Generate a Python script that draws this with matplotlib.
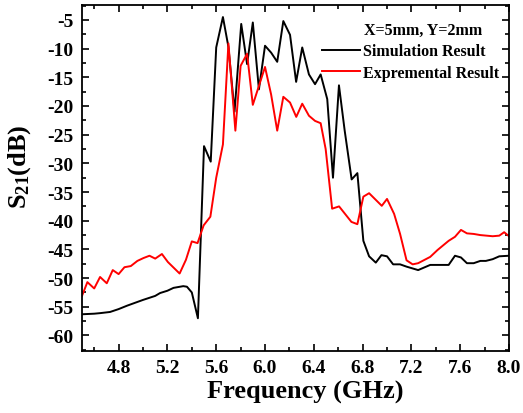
import matplotlib
matplotlib.use("Agg")
import matplotlib.pyplot as plt
from matplotlib.ticker import MultipleLocator

plt.rcParams["font.family"] = "Liberation Serif"
plt.rcParams["font.weight"] = "bold"
plt.rcParams["mathtext.fontset"] = "custom"
plt.rcParams["mathtext.rm"] = "Liberation Serif:bold"
plt.rcParams["mathtext.it"] = "Liberation Serif:bold"
plt.rcParams["axes.unicode_minus"] = False

# simulation (black)
sim_f = [4.50, 4.60, 4.65, 4.73, 4.80, 4.87, 5.00, 5.10, 5.14, 5.20, 5.25, 5.33, 5.36,
         5.40, 5.45, 5.50, 5.555, 5.60, 5.655, 5.70, 5.75, 5.805, 5.853, 5.90, 5.95,
         6.00, 6.05, 6.10, 6.15, 6.205, 6.255, 6.305, 6.36, 6.41, 6.456, 6.51, 6.557,
         6.606, 6.653, 6.71, 6.757, 6.806, 6.853, 6.908, 6.954, 7.00, 7.05, 7.107,
         7.16, 7.255, 7.354, 7.505, 7.557, 7.606, 7.655, 7.71, 7.765, 7.81, 7.866,
         7.92, 8.00]
sim_db = [-56.3, -56.2, -56.1, -55.9, -55.4, -54.8, -53.8, -53.1, -52.6, -52.2, -51.7,
          -51.4, -51.5, -52.5, -57.0, -27.0, -29.7, -9.8, -4.5, -9.7, -21.0, -5.7,
          -12.7, -5.45, -17.1, -9.5, -10.7, -12.3, -5.2, -7.6, -15.8, -9.8, -14.5,
          -16.2, -14.5, -18.8, -32.5, -16.4, -24.3, -32.8, -31.7, -43.5, -46.2, -47.3,
          -46.0, -46.2, -47.6, -47.6, -48.0, -48.6, -47.7, -47.7, -46.1, -46.4, -47.4,
          -47.4, -47.0, -47.0, -46.7, -46.2, -46.1]

# measurement (red)
exp_f = [4.50, 4.544, 4.60, 4.648, 4.703, 4.752, 4.80, 4.848, 4.90, 4.954, 5.004,
         5.053, 5.10, 5.155, 5.204, 5.30, 5.352, 5.40, 5.447, 5.497, 5.552, 5.60,
         5.655, 5.70, 5.757, 5.80, 5.853, 5.90, 6.00, 6.05, 6.10, 6.15, 6.205, 6.256,
         6.305, 6.36, 6.41, 6.456, 6.497, 6.55, 6.607, 6.708, 6.757, 6.806, 6.853,
         6.957, 7.00, 7.058, 7.107, 7.16, 7.21, 7.255, 7.354, 7.414, 7.505, 7.557,
         7.606, 7.655, 7.71, 7.765, 7.866, 7.92, 7.96, 8.00]
exp_db = [-53.1, -50.7, -51.8, -49.8, -50.9, -48.6, -49.3, -48.1, -47.9, -47.0, -46.5,
          -46.1, -46.6, -45.8, -47.2, -49.2, -46.8, -43.6, -43.9, -40.8, -39.3, -32.5,
          -26.7, -9.1, -24.3, -13.0, -10.9, -19.8, -13.2, -18.0, -24.3, -18.4, -19.4,
          -21.9, -19.6, -21.7, -22.6, -23.0, -27.5, -37.9, -37.5, -40.2, -40.6, -35.8,
          -35.2, -37.4, -36.2, -38.8, -42.3, -46.9, -47.6, -47.4, -46.3, -45.1, -43.5,
          -42.8, -41.6, -42.2, -42.3, -42.5, -42.7, -42.6, -42.0, -42.7]

fig = plt.figure(figsize=(5.23, 4.14), dpi=100)
ax = fig.add_axes([0.1568, 0.1498, 0.8165, 0.8357])

ax.plot(sim_f, sim_db, color="black", lw=1.4, label="Simulation Result")
ax.plot(exp_f, exp_db, color="red", lw=1.4, label="Expremental Result")

ax.set_xlim(4.5, 8.0)
ax.set_ylim(-62.7, -2.4)
ax.xaxis.set_major_locator(MultipleLocator(0.4))
ax.xaxis.set_minor_locator(MultipleLocator(0.2))
ax.yaxis.set_major_locator(MultipleLocator(5))
ax.yaxis.set_minor_locator(MultipleLocator(2.5))
ax.tick_params(which="both", direction="in", top=True, right=True, width=1.2)
ax.tick_params(which="major", length=5, labelsize=14, pad=6)
ax.tick_params(which="minor", length=3)
for s in ax.spines.values():
    s.set_linewidth(1.3)

ax.set_xlabel("Frequency (GHz)", fontsize=19, fontweight="bold")
ax.xaxis.set_label_coords(0.522, -0.083)
ax.set_ylabel("S$_{21}$(dB)", fontsize=19, fontweight="bold")
ax.yaxis.set_label_coords(-0.115, 0.535)

ax.text(0.799, 0.928, "X=5mm, Y=2mm", transform=ax.transAxes, ha="center",
        va="center", fontsize=11.5, fontweight="bold")
ax.legend(loc="upper left", bbox_to_anchor=(0.561, 0.889), frameon=False,
          fontsize=11.5, handlelength=2.4, handletextpad=0.2, labelspacing=0.35,
          borderpad=0, borderaxespad=0)

fig.savefig("out.png", dpi=100)
